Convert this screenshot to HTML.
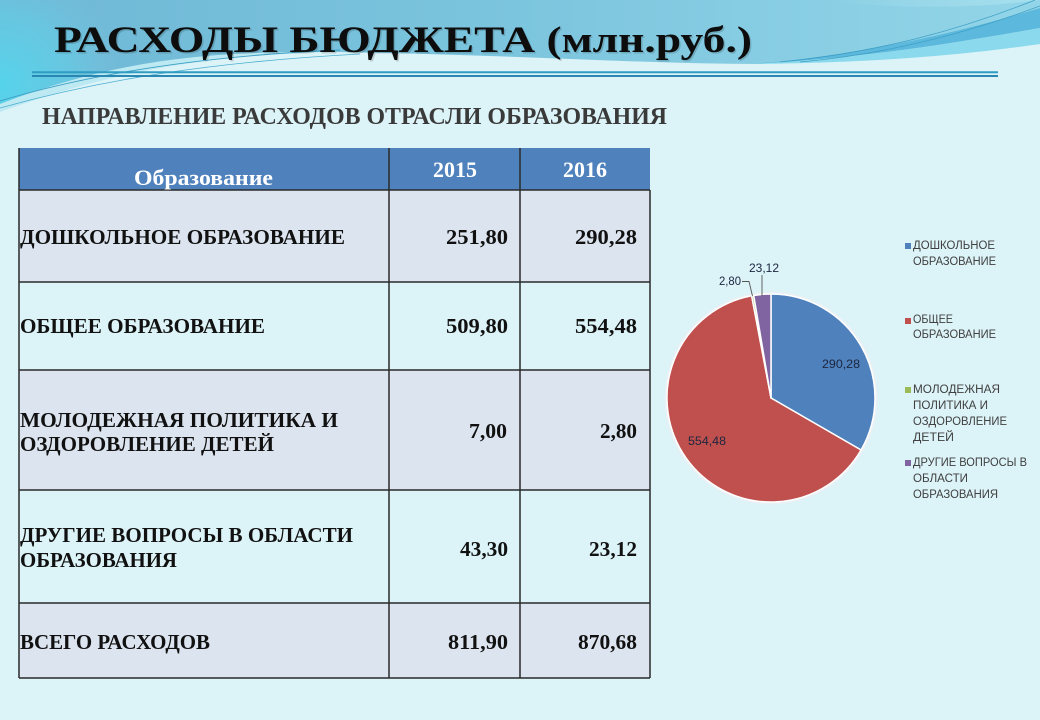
<!DOCTYPE html>
<html>
<head>
<meta charset="utf-8">
<style>
html,body{margin:0;padding:0;background:#dcf3f8;}
svg{display:block;}
</style>
</head>
<body>
<svg width="1040" height="720" viewBox="0 0 1040 720" xmlns="http://www.w3.org/2000/svg">
  <defs>
    <linearGradient id="topg" x1="0" y1="0" x2="1" y2="0">
      <stop offset="0" stop-color="#6fb8d6"/>
      <stop offset="0.5" stop-color="#7cc5de"/>
      <stop offset="1" stop-color="#93d5e8"/>
    </linearGradient>
    <radialGradient id="cyang" cx="0" cy="85" r="120" gradientUnits="userSpaceOnUse">
      <stop offset="0" stop-color="#55d4ec" stop-opacity="1"/>
      <stop offset="0.6" stop-color="#62d0e8" stop-opacity="0.55"/>
      <stop offset="1" stop-color="#72c8e0" stop-opacity="0"/>
    </radialGradient>
    <linearGradient id="trg" x1="0" y1="0" x2="1" y2="0">
      <stop offset="0" stop-color="#b9ebf3" stop-opacity="0"/>
      <stop offset="1" stop-color="#b9ebf3" stop-opacity="0.5"/>
    </linearGradient>
  </defs>

  <!-- background -->
  <rect x="0" y="0" width="1040" height="720" fill="#dcf3f8"/>
  <path d="M0,0 H1040 V12 C950,38 860,58 760,64 C640,64 500,54 330,52 C200,51 110,62 0,104 Z" fill="url(#topg)"/>
  <path d="M0,0 H1040 V12 C950,38 860,58 760,64 C640,64 500,54 330,52 C200,51 110,62 0,104 Z" fill="url(#cyang)"/>
  <path d="M820,0 C900,10 980,8 1040,0 Z" fill="url(#trg)"/>
  <path d="M1040,8 C960,32 860,56 750,64 C870,58 960,42 1040,28 Z" fill="#5cb8dc"/>
  <path d="M1040,28 C960,42 870,58 750,64 C880,63 970,54 1040,44 Z" fill="#8ad9ec"/>
  <path d="M0,104 C110,62 200,51 330,52 C200,56 110,72 0,112 Z" fill="#a9e3ef" opacity="0.6"/>
  <!-- thin lines -->
  <path d="M0,101 C90,74 200,56 340,50" stroke="#3d9fc4" stroke-width="0.9" fill="none"/>
  <path d="M0,108 C100,80 210,62 360,54" stroke="#4aaed0" stroke-width="0.8" fill="none"/>
  <path d="M1035,0 C960,30 880,52 780,62" stroke="#3d9fc4" stroke-width="0.8" fill="none"/>
  <path d="M1040,6 C970,32 890,54 800,62" stroke="#3d9fc4" stroke-width="0.7" fill="none"/>

  <!-- double line -->
  <line x1="32" y1="72.3" x2="998" y2="72.3" stroke="#2f9cc2" stroke-width="2"/>
  <line x1="32" y1="76" x2="998" y2="76" stroke="#2a87b2" stroke-width="2"/>

  <!-- title -->
  <text x="55.5" y="53.5" font-family="'Liberation Serif', serif" font-weight="bold" font-size="37" fill="#000" opacity="0.15" textLength="698" lengthAdjust="spacingAndGlyphs">РАСХОДЫ БЮДЖЕТА (млн.руб.)</text>
  <text x="54" y="52" font-family="'Liberation Serif', serif" font-weight="bold" font-size="37" fill="#0d0d0d" textLength="698" lengthAdjust="spacingAndGlyphs">РАСХОДЫ БЮДЖЕТА (млн.руб.)</text>

  <!-- subtitle -->
  <text x="42" y="124" font-family="'Liberation Serif', serif" font-weight="bold" font-size="24" fill="#3a3a3a" textLength="625" lengthAdjust="spacingAndGlyphs">НАПРАВЛЕНИЕ РАСХОДОВ ОТРАСЛИ ОБРАЗОВАНИЯ</text>

  <!-- table backgrounds -->
  <rect x="19" y="148" width="631" height="42" fill="#4f81bd"/>
  <rect x="19" y="190" width="631" height="92" fill="#dce4ef"/>
  <rect x="19" y="370" width="631" height="120" fill="#dce4ef"/>
  <rect x="19" y="603" width="631" height="75" fill="#dce4ef"/>

  <!-- table lines -->
  <g stroke="#2a2a2a" stroke-width="1.5">
    <line x1="19" y1="190" x2="650" y2="190"/>
    <line x1="19" y1="282" x2="650" y2="282"/>
    <line x1="19" y1="370" x2="650" y2="370"/>
    <line x1="19" y1="490" x2="650" y2="490"/>
    <line x1="19" y1="603" x2="650" y2="603"/>
    <line x1="19" y1="678" x2="650" y2="678"/>
    <line x1="19" y1="148" x2="19" y2="678"/>
    <line x1="389" y1="148" x2="389" y2="678"/>
    <line x1="520" y1="148" x2="520" y2="678"/>
    <line x1="650" y1="190" x2="650" y2="678"/>
  </g>

  <!-- header text -->
  <g font-family="'Liberation Serif', serif" font-weight="bold" fill="#ffffff">
    <text x="134" y="185" font-size="22" textLength="139" lengthAdjust="spacingAndGlyphs">Образование</text>
    <text x="433" y="177" font-size="22" textLength="44" lengthAdjust="spacingAndGlyphs">2015</text>
    <text x="563" y="177" font-size="22" textLength="44" lengthAdjust="spacingAndGlyphs">2016</text>
  </g>

  <!-- body text -->
  <g font-family="'Liberation Serif', serif" font-weight="bold" font-size="21" fill="#111">
    <text x="20" y="244" textLength="325" lengthAdjust="spacingAndGlyphs">ДОШКОЛЬНОЕ  ОБРАЗОВАНИЕ</text>
    <text x="446" y="244" textLength="62" lengthAdjust="spacingAndGlyphs">251,80</text>
    <text x="575" y="244" textLength="62" lengthAdjust="spacingAndGlyphs">290,28</text>

    <text x="20" y="333" textLength="245" lengthAdjust="spacingAndGlyphs">ОБЩЕЕ ОБРАЗОВАНИЕ</text>
    <text x="446" y="333" textLength="62" lengthAdjust="spacingAndGlyphs">509,80</text>
    <text x="575" y="333" textLength="62" lengthAdjust="spacingAndGlyphs">554,48</text>

    <text x="20" y="427" textLength="318" lengthAdjust="spacingAndGlyphs">МОЛОДЕЖНАЯ  ПОЛИТИКА  И</text>
    <text x="20" y="451" textLength="254" lengthAdjust="spacingAndGlyphs">ОЗДОРОВЛЕНИЕ  ДЕТЕЙ</text>
    <text x="469" y="438" textLength="38" lengthAdjust="spacingAndGlyphs">7,00</text>
    <text x="600" y="438" textLength="37" lengthAdjust="spacingAndGlyphs">2,80</text>

    <text x="20" y="542" textLength="333" lengthAdjust="spacingAndGlyphs">ДРУГИЕ  ВОПРОСЫ В ОБЛАСТИ</text>
    <text x="20" y="567" textLength="157" lengthAdjust="spacingAndGlyphs">ОБРАЗОВАНИЯ</text>
    <text x="460" y="556" textLength="48" lengthAdjust="spacingAndGlyphs">43,30</text>
    <text x="589" y="556" textLength="48" lengthAdjust="spacingAndGlyphs">23,12</text>

    <text x="20" y="649" textLength="190" lengthAdjust="spacingAndGlyphs">ВСЕГО РАСХОДОВ</text>
    <text x="448" y="649" textLength="60" lengthAdjust="spacingAndGlyphs">811,90</text>
    <text x="578" y="649" textLength="59" lengthAdjust="spacingAndGlyphs">870,68</text>
  </g>

  <!-- pie -->
  <circle cx="771" cy="398" r="105.5" fill="none" stroke="#e9f1f4" stroke-width="2"/>
  <g stroke="#ffffff" stroke-width="1.5" stroke-linejoin="round">
    <path d="M771,398 L771,294 A104,104 0 0 1 861.04,450.03 Z" fill="#4f81bd"/>
    <path d="M771,398 L861.04,450.03 A104,104 0 1 1 751.66,295.81 Z" fill="#c0504d"/>
    <path d="M771,398 L751.66,295.81 A104,104 0 0 1 753.73,295.45 Z" fill="#9bbb59"/>
    <path d="M771,398 L753.73,295.45 A104,104 0 0 1 771,294 Z" fill="#8064a2"/>
  </g>

  <!-- pie labels -->
  <g font-family="'Liberation Sans', sans-serif" font-size="12" fill="#1b2640">
    <text x="822" y="368" textLength="38" lengthAdjust="spacingAndGlyphs">290,28</text>
    <text x="688" y="445" textLength="38" lengthAdjust="spacingAndGlyphs">554,48</text>
    <text x="719" y="285" textLength="22" lengthAdjust="spacingAndGlyphs">2,80</text>
    <text x="749" y="272" textLength="30" lengthAdjust="spacingAndGlyphs">23,12</text>
  </g>
  <path d="M742,281.5 H749 L752.5,296" stroke="#555" stroke-width="0.9" fill="none"/>
  <path d="M762,275 V296" stroke="#555" stroke-width="0.9" fill="none"/>

  <!-- legend -->
  <rect x="905" y="243" width="6" height="6" fill="#4f81bd"/>
  <rect x="905" y="318" width="6" height="6" fill="#c0504d"/>
  <rect x="905" y="387" width="6" height="6" fill="#9bbb59"/>
  <rect x="905" y="460" width="6" height="6" fill="#8064a2"/>
  <g font-family="'Liberation Sans', sans-serif" font-size="11.5" fill="#404040">
    <text x="913" y="249" textLength="82" lengthAdjust="spacingAndGlyphs">ДОШКОЛЬНОЕ</text>
    <text x="913" y="265" textLength="83" lengthAdjust="spacingAndGlyphs">ОБРАЗОВАНИЕ</text>
    <text x="913" y="323" textLength="40" lengthAdjust="spacingAndGlyphs">ОБЩЕЕ</text>
    <text x="913" y="338" textLength="83" lengthAdjust="spacingAndGlyphs">ОБРАЗОВАНИЕ</text>
    <text x="913" y="393" textLength="87" lengthAdjust="spacingAndGlyphs">МОЛОДЕЖНАЯ</text>
    <text x="913" y="409" textLength="75" lengthAdjust="spacingAndGlyphs">ПОЛИТИКА И</text>
    <text x="913" y="425" textLength="94" lengthAdjust="spacingAndGlyphs">ОЗДОРОВЛЕНИЕ</text>
    <text x="913" y="441" textLength="41" lengthAdjust="spacingAndGlyphs">ДЕТЕЙ</text>
    <text x="913" y="466" textLength="114" lengthAdjust="spacingAndGlyphs">ДРУГИЕ ВОПРОСЫ В</text>
    <text x="913" y="482" textLength="55" lengthAdjust="spacingAndGlyphs">ОБЛАСТИ</text>
    <text x="913" y="498" textLength="85" lengthAdjust="spacingAndGlyphs">ОБРАЗОВАНИЯ</text>
  </g>
</svg>
</body>
</html>
